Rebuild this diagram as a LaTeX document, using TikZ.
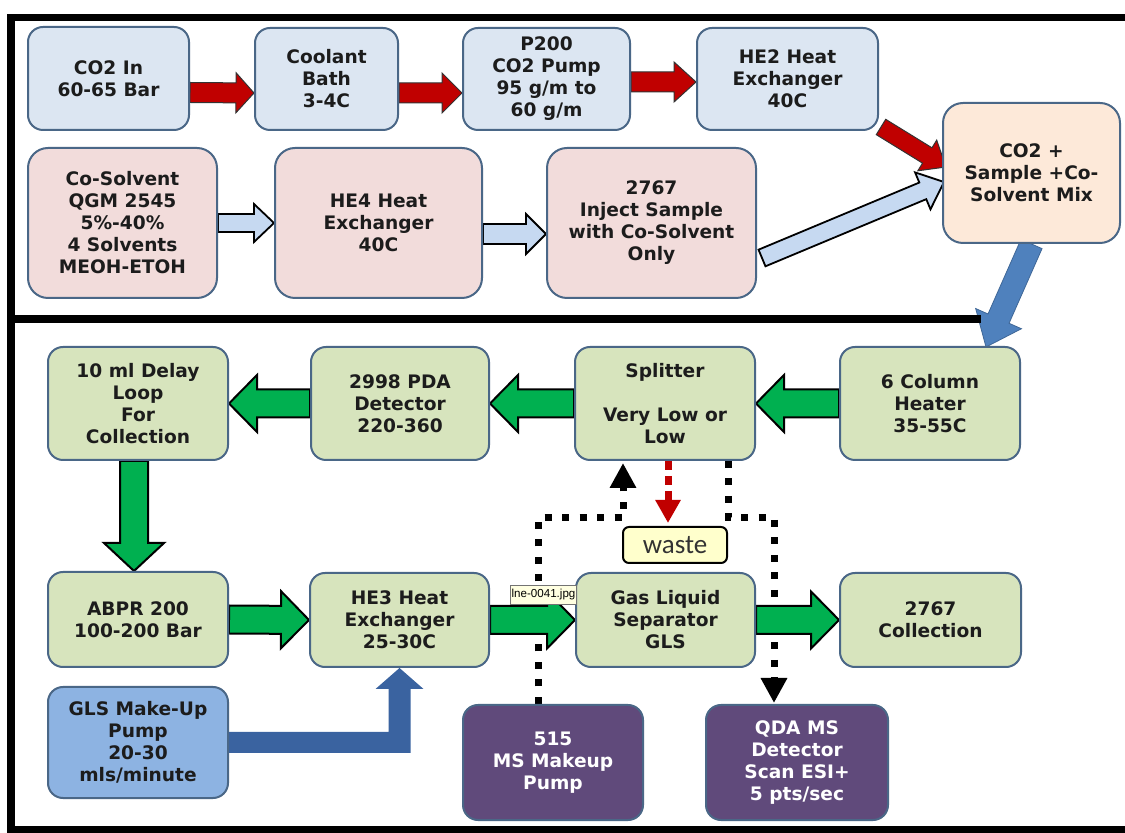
\documentclass[tikz,border=0pt]{standalone}
\usepackage{fontspec}
\setmainfont{DejaVu Sans}
\newfontfamily\wastefont{Carlito}
\newfontfamily\tipfont{Liberation Sans}
\usetikzlibrary{calc,arrows.meta}
\definecolor{bluefill}{HTML}{DCE6F2}
\definecolor{pinkfill}{HTML}{F2DCDB}
\definecolor{peachfill}{HTML}{FDE9D9}
\definecolor{greenfill}{HTML}{D7E4BD}
\definecolor{gmufill}{HTML}{8DB3E2}
\definecolor{purplefill}{HTML}{604A7B}
\definecolor{boxline}{HTML}{4A6787}
\definecolor{arrred}{HTML}{C00000}
\definecolor{arrlblue}{HTML}{C6D9F1}
\definecolor{arrgreen}{HTML}{00B050}
\definecolor{arrblue}{HTML}{4F81BD}
\definecolor{elbowblue}{HTML}{3A63A0}
\definecolor{wastefill}{HTML}{FFFFCC}
\definecolor{tipfill}{HTML}{FFFFE1}
\definecolor{textcol}{HTML}{1C1C1C}
\newcommand\boxfont{\fontsize{9.3}{11}\selectfont\bfseries}
\pgfdeclarelayer{bg}
\pgfsetlayers{bg,main}
% #1 name, #2 style, #3 x1, #4 y1, #5 x2, #6 y2, #7 text
\newcommand\pbox[7]{\node[#2, minimum width={(#5-#3)*0.5pt}, minimum height={(#6-#4)*0.5pt}] (#1) at ({(#3+#5)/2},{(#4+#6)/2}) {#7};}
% #1 start, #2 end, #3 shaft half width, #4 head half width, #5 head length, #6 style
\newcommand\fatarrow[6]{%
  \path (#1) coordinate (fa-s) (#2) coordinate (fa-e);
  \path ($(fa-e)!#5!(fa-s)$) coordinate (fa-h);
  \draw[#6] ($(fa-s)!#3!90:(fa-e)$) -- ($(fa-h)!#3!90:(fa-e)$) -- ($(fa-h)!#4!90:(fa-e)$) -- (fa-e) -- ($(fa-h)!#4!-90:(fa-e)$) -- ($(fa-h)!#3!-90:(fa-e)$) -- ($(fa-s)!#3!-90:(fa-e)$) -- cycle;}
\tikzset{
  box/.style={rounded corners=7.5pt, draw=boxline, line width=1pt, align=center, font=\boxfont, text=textcol, inner sep=1pt},
  bluebox/.style={box, fill=bluefill},
  pinkbox/.style={box, fill=pinkfill, rounded corners=10pt},
  mixbox/.style={box, fill=peachfill, rounded corners=10pt},
  greenbox/.style={box, fill=greenfill},
  gmubox/.style={box, fill=gmufill},
  purplebox/.style={box, fill=purplefill, text=white},
  wastebox/.style={draw=black, line width=1pt, rounded corners=3pt, fill=wastefill, text=black!80, font=\wastefont\fontsize{13.5}{14}\selectfont, inner sep=0pt},
  tipbox/.style={draw=black!55, line width=0.4pt, fill=tipfill, font=\tipfont\fontsize{5.8}{6}\selectfont, inner sep=0.5pt},
  redarr/.style={fill=arrred, draw=black!80, line width=0.5pt},
  lbarr/.style={fill=arrlblue, draw=black, line width=0.9pt},
  grarr/.style={fill=arrgreen, draw=black, line width=1pt},
  bluearr/.style={fill=arrblue, draw=arrblue!80!black, line width=0.4pt},
  dots/.style={draw=black, line width=3.5pt, dash pattern=on 3.5pt off 5.25pt},
  reddash/.style={draw=arrred, line width=3.5pt, dash pattern=on 4.5pt off 3pt},
}
\begin{document}
\begin{tikzpicture}[x=0.5pt,y=-0.5pt]
\useasboundingbox (0,0) rectangle (1125,833);
\begin{pgfonlayer}{bg}
\fill[white] (0,0) rectangle (1125,833);
\end{pgfonlayer}
% frames
\fill[black] (7,14) rectangle (1125,21);
\fill[black] (7,14) rectangle (15,833);
\fill[black] (7,315) rectangle (981,323);
\fill[black] (7,826) rectangle (1125,833);
% nodes
\pbox{co2}{bluebox}{28}{27}{189}{130}{CO2 In\\60-65 Bar}
\pbox{bath}{bluebox}{255}{28}{398}{130}{Coolant\\Bath\\3-4C}
\pbox{p200}{bluebox}{463}{28}{630}{130}{P200\\CO2 Pump\\95 g/m to\\60 g/m}
\pbox{he2}{bluebox}{697}{28}{878}{130}{HE2 Heat\\Exchanger\\40C}
\pbox{cosolv}{pinkbox}{28}{148}{217}{298}{Co-Solvent\\QGM 2545\\5\%-40\%\\4 Solvents\\MEOH-ETOH}
\pbox{he4}{pinkbox}{275}{148}{482}{298}{HE4 Heat\\Exchanger\\40C}
\pbox{inject}{pinkbox}{547}{148}{756}{298}{2767\\Inject Sample\\with Co-Solvent\\Only}
\pbox{mix}{mixbox}{943}{103}{1120}{243}{CO2 +\\Sample +Co-\\Solvent Mix}
\pbox{delay}{greenbox}{48}{347}{228}{460}{10 ml Delay\\Loop\\For\\Collection}
\pbox{pda}{greenbox}{311}{347}{489}{460}{2998 PDA\\Detector\\220-360}
\pbox{splitter}{greenbox}{575}{347}{755}{460}{Splitter\\[11pt]Very Low or\\Low}
\pbox{col6}{greenbox}{840}{347}{1020}{460}{6 Column\\Heater\\35-55C}
\pbox{abpr}{greenbox}{48}{572}{228}{667}{ABPR 200\\100-200 Bar}
\pbox{he3}{greenbox}{310}{573}{489}{667}{HE3 Heat\\Exchanger\\25-30C}
\pbox{gls}{greenbox}{576}{573}{755}{667}{Gas Liquid\\Separator\\GLS}
\pbox{coll}{greenbox}{840}{573}{1021}{667}{2767\\Collection}
\pbox{glsmu}{gmubox}{48}{687}{228}{798}{GLS Make-Up\\Pump\\20-30\\mls/minute}
\pbox{ms515}{purplebox}{463}{705}{643}{820}{515\\MS Makeup\\Pump}
\pbox{qda}{purplebox}{706}{705}{888}{820}{QDA MS\\Detector\\Scan ESI+\\5 pts/sec}
\pbox{waste}{wastebox}{623}{527}{727}{563}{waste}
\pbox{tip}{tipbox}{511}{585}{576}{604}{lne-0041.jpg}
\begin{pgfonlayer}{bg}
% red arrows
\fatarrow{$(co2.east)+(0,14)$}{$(bath.west)+(0,14)$}{5pt}{10pt}{9pt}{redarr}
\fatarrow{$(bath.east)+(0,14)$}{$(p200.west)+(0,14)$}{5pt}{10pt}{10pt}{redarr}
\fatarrow{$(p200.east)+(0,3)$}{$(he2.west)+(0,3)$}{5pt}{10pt}{11pt}{redarr}
\fatarrow{$(he2.south east)+(2,-4)$}{$(mix.west)+(4,-6)$}{4.5pt}{9pt}{11pt}{redarr}
% light blue arrows
\fatarrow{cosolv.east}{he4.west}{4.5pt}{9.5pt}{10pt}{lbarr}
\fatarrow{$(he4.east)+(0,11)$}{$(inject.west)+(0,11)$}{5pt}{10pt}{10pt}{lbarr}
\fatarrow{$(inject.east)+(5,35)$}{$(mix.west)+(2,9)$}{4.5pt}{10pt}{11.5pt}{lbarr}
% blue arrow mix -> column heater
\fatarrow{mix.south}{$(col6.north)+(56,1)$}{5.75pt}{12.5pt}{15.5pt}{bluearr}
% elbow arrow GLS make-up -> HE3
\coordinate (elb) at (glsmu.east -| he3.south);
\fill[elbowblue] ($(glsmu.east)+(-2,-10.5)$) -- ($(elb)+(-11,-10.5)$) -- ($(he3.south)+(-11,21)$) -- ($(he3.south)+(-24,21)$) -- (he3.south) -- ($(he3.south)+(24,21)$) -- ($(he3.south)+(11,21)$) -- ($(elb)+(11,10.5)$) -- ($(glsmu.east)+(-2,10.5)$) -- cycle;
% dotted connectors
\coordinate (hl) at ($(splitter.south)+(0,57)$);
\coordinate (la) at ($(ms515.north)+(-15,0)$);
\coordinate (lb) at ($(splitter.south)+(-42,2)$);
\draw[dots, -{Triangle[length=12.5pt,width=12.5pt]}] (la) -- (la |- hl) -- (lb |- hl) -- (lb);
\coordinate (ra) at ($(splitter.south)+(63,0)$);
\coordinate (rb) at ($(qda.north)+(-23,-1)$);
\draw[dots, -{Triangle[length=12.5pt,width=12.5pt]}] (ra) -- (ra |- hl) -- (rb |- hl) -- (rb);
\coordinate (wn) at ($(waste.north)+(-7,-3)$);
\draw[reddash, -{Triangle[length=11.5pt,width=12pt]}] (wn |- splitter.south) -- (wn);
% green arrows
\fatarrow{col6.west}{splitter.east}{7pt}{14.25pt}{14pt}{grarr}
\fatarrow{splitter.west}{pda.east}{7pt}{14.25pt}{14pt}{grarr}
\fatarrow{pda.west}{delay.east}{7pt}{14.25pt}{14pt}{grarr}
\fatarrow{$(delay.south)+(-4,0)$}{$(abpr.north)+(-4,0)$}{7pt}{15pt}{14pt}{grarr}
\fatarrow{abpr.east}{he3.west}{7pt}{14.25pt}{14pt}{grarr}
\fatarrow{he3.east}{gls.west}{7pt}{14.25pt}{14pt}{grarr}
\fatarrow{gls.east}{coll.west}{7pt}{14.25pt}{14pt}{grarr}
\end{pgfonlayer}
\end{tikzpicture}
\end{document}
